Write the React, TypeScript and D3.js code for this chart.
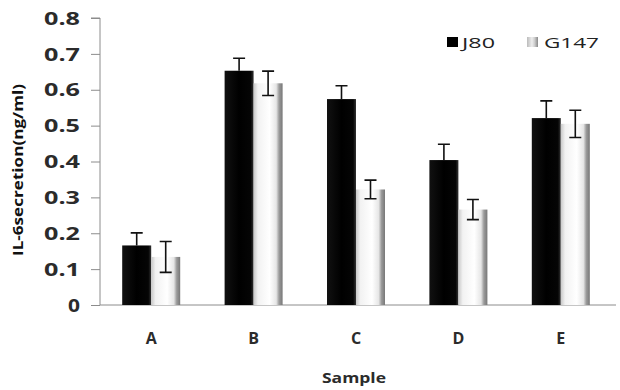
import { useEffect, useRef } from "react";
import * as d3 from "d3";

// IL-6 secretion per sample, two cell lines
const samples = ["A", "B", "C", "D", "E"];
const seriesNames = ["J80", "G147"];
const j80Values = [0.166, 0.653, 0.574, 0.404, 0.521];
const j80Errors = [0.035, 0.035, 0.037, 0.044, 0.048];
const g147Values = [0.134, 0.618, 0.322, 0.266, 0.505];
const g147Errors = [0.043, 0.034, 0.026, 0.028, 0.038];
const yTicks = [0, 0.1, 0.2, 0.3, 0.4, 0.5, 0.6, 0.7, 0.8];

const FONT = "'Open Sans', 'DejaVu Sans', sans-serif";

const App = () => {
  const svgRef = useRef<SVGSVGElement>(null);

  useEffect(() => {
    const W = 620;
    const H = 390;
    const margin = { top: 18, right: 8, bottom: 85, left: 100 };
    const width = W - margin.left - margin.right;
    const height = H - margin.top - margin.bottom;

    const svg = d3.select(svgRef.current);
    svg.selectAll("*").remove();

    // gradients for the shaded bars
    const defs = svg.append("defs");
    const black = defs.append("linearGradient").attr("id", "gBlack").attr("x1", 0).attr("x2", 1);
    black.append("stop").attr("offset", "0%").attr("stop-color", "#111");
    black.append("stop").attr("offset", "50%").attr("stop-color", "#000");
    black.append("stop").attr("offset", "90%").attr("stop-color", "#050505");
    black.append("stop").attr("offset", "100%").attr("stop-color", "#333");
    const white = defs.append("linearGradient").attr("id", "gWhite").attr("x1", 0).attr("x2", 1);
    white.append("stop").attr("offset", "0%").attr("stop-color", "#c8c8c8");
    white.append("stop").attr("offset", "15%").attr("stop-color", "#f2f2f2");
    white.append("stop").attr("offset", "55%").attr("stop-color", "#ffffff");
    white.append("stop").attr("offset", "78%").attr("stop-color", "#e6e6e6");
    white.append("stop").attr("offset", "88%").attr("stop-color", "#9a9a9a");
    white.append("stop").attr("offset", "100%").attr("stop-color", "#777");
    const icon = defs.append("linearGradient").attr("id", "gIcon").attr("x1", 0).attr("x2", 1);
    icon.append("stop").attr("offset", "0%").attr("stop-color", "#bbb");
    icon.append("stop").attr("offset", "45%").attr("stop-color", "#eee");
    icon.append("stop").attr("offset", "70%").attr("stop-color", "#ccc");
    icon.append("stop").attr("offset", "100%").attr("stop-color", "#888");

    const g = svg.append("g").attr("transform", `translate(${margin.left},${margin.top})`);

    const x = d3.scaleBand().domain(samples).range([0, width]).paddingInner(0).paddingOuter(0);
    const x1 = d3.scaleBand().domain(seriesNames).range([0, 58]);
    const y = d3.scaleLinear().domain([0, 0.8]).range([height, 0]);

    const data = samples.map((s, i) => ({
      sample: s,
      bars: [
        { name: "J80", v: j80Values[i], e: j80Errors[i] },
        { name: "G147", v: g147Values[i], e: g147Errors[i] },
      ],
    }));

    // y axis
    const yAxis = g.append("g").call(
      d3.axisLeft(y).tickValues(yTicks).tickSize(9).tickFormat((d) => (d === 0 ? "0" : d3.format(".1f")(d as number)))
    );
    yAxis.select(".domain").attr("stroke", "#8c8c8c").attr("d", `M-9,0H0V${height}`);
    yAxis.selectAll(".tick line").attr("stroke", "#8c8c8c");
    yAxis.selectAll<SVGTextElement, number>(".tick text")
      .attr("x", -20)
      .attr("dy", "0.36em")
      .attr("fill", "#2b2b2b")
      .attr("textLength", (d) => (d === 0 ? 12 : 36))
      .attr("lengthAdjust", "spacingAndGlyphs")
      .style("font-family", FONT)
      .style("font-weight", "bold")
      .style("font-size", "17px");

    // x axis line
    g.append("line")
      .attr("x1", 0).attr("x2", width + 4)
      .attr("y1", height).attr("y2", height)
      .attr("stroke", "#8c8c8c");

    const groups = g.selectAll(".grp").data(data).enter().append("g")
      .attr("transform", (d) => `translate(${x(d.sample)! + x.bandwidth() / 2 - 29},0)`);

    groups.selectAll("rect").data((d) => d.bars).enter().append("rect")
      .attr("x", (d) => x1(d.name)!)
      .attr("width", x1.bandwidth())
      .attr("y", (d) => y(d.v))
      .attr("height", (d) => height - y(d.v))
      .attr("fill", (d) => (d.name === "J80" ? "url(#gBlack)" : "url(#gWhite)"));

    // error bars (upper for J80, both for G147)
    groups.selectAll(".err").data((d) => d.bars).enter().append("path")
      .attr("fill", "none")
      .attr("stroke", "#111")
      .attr("stroke-width", 1.6)
      .attr("d", (d) => {
        const cx = x1(d.name)! + x1.bandwidth() / 2;
        const top = y(d.v + d.e);
        const bot = d.name === "J80" ? y(d.v) : y(d.v - d.e);
        let p = `M${cx},${bot}V${top}M${cx - 6},${top}H${cx + 6}`;
        if (d.name !== "J80") p += `M${cx - 6},${bot}H${cx + 6}`;
        return p;
      });

    // category labels
    g.selectAll(".cat").data(samples).enter().append("text")
      .attr("x", (d) => x(d)! + x.bandwidth() / 2)
      .attr("y", height + 39)
      .attr("text-anchor", "middle")
      .attr("fill", "#2b2b2b")
      .style("font-family", FONT)
      .style("font-weight", "bold")
      .style("font-size", "16px")
      .text((d) => d);

    // axis titles
    g.append("text")
      .attr("x", width / 2 - 2)
      .attr("y", height + 78)
      .attr("text-anchor", "middle")
      .attr("fill", "#2b2b2b")
      .attr("textLength", 64)
      .attr("lengthAdjust", "spacingAndGlyphs")
      .style("font-family", FONT)
      .style("font-weight", "bold")
      .style("font-size", "14px")
      .text("Sample");

    svg.append("text")
      .attr("transform", `translate(23,${170}) rotate(-90)`)
      .attr("text-anchor", "middle")
      .attr("fill", "#111")
      .attr("textLength", 172)
      .attr("lengthAdjust", "spacingAndGlyphs")
      .style("font-family", FONT)
      .style("font-weight", "bold")
      .style("font-size", "14px")
      .text("IL-6secretion(ng/ml)");

    // legend
    const legend = svg.append("g").attr("transform", "translate(447,37)");
    const legendWidths = [33, 55];
    seriesNames.forEach((name, i) => {
      const lg = legend.append("g").attr("transform", `translate(${i * 80},0)`);
      lg.append("rect").attr("width", 11).attr("height", 10)
        .attr("fill", name === "J80" ? "#000" : "url(#gIcon)");
      lg.append("text").attr("x", i === 0 ? 15 : 17).attr("y", 10.5)
        .attr("fill", "#222")
        .attr("textLength", legendWidths[i])
        .attr("lengthAdjust", "spacingAndGlyphs")
        .style("font-family", FONT)
        .style("font-size", "15px")
        .text(name);
    });
  }, []);

  return (
    <svg ref={svgRef} width={620} height={390} style={{ position: "absolute", left: 0, top: 0, background: "#fff" }} />
  );
};

export default App;
